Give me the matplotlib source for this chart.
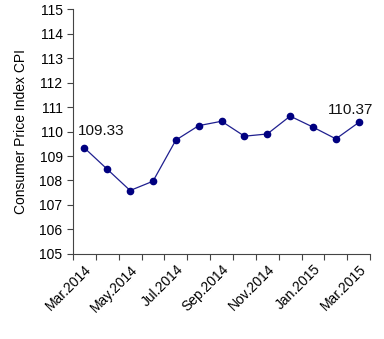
import numpy as np
import matplotlib
matplotlib.use("Agg")
from matplotlib import pyplot as plt

months = ["Mar.2014", "Apr.2014", "May.2014", "Jun.2014", "Jul.2014", "Aug.2014",
          "Sep.2014", "Oct.2014", "Nov.2014", "Dec.2014", "Jan.2015", "Feb.2015", "Mar.2015"]
cpi = [109.33, 108.46, 107.59, 107.97, 109.65, 110.24, 110.42,
       109.81, 109.90, 110.63, 110.18, 109.70, 110.37]

plt.rcParams['font.family'] = ['Liberation Sans', 'DejaVu Sans']

fig = plt.figure(figsize=(3.84, 3.39), dpi=100)
ax = fig.add_axes([0.190, 0.251, 0.774, 0.722])

x = np.arange(len(months))
ax.plot(x, cpi, color='#1f1f8f', linewidth=0.9, marker='o', markersize=4.5,
        markerfacecolor='#000080', markeredgecolor='#000080')

# first and last values written on the chart
ax.annotate(f"{cpi[0]:.2f}", (x[0], cpi[0]), xytext=(-5, 7), textcoords='offset points',
            fontsize=11, color='#111111', ha='left', va='bottom')
ax.annotate(f"{cpi[-1]:.2f}", (x[-1], cpi[-1]), xytext=(-22, 4), textcoords='offset points',
            fontsize=11, color='#111111', ha='left', va='bottom')

ax.set_xlim(-0.5, len(months) - 0.5)
ax.set_ylim(105, 115)
ax.set_yticks(np.arange(105, 116, 1))

# tick marks sit between categories, labels on every other month
ax.set_xticks(np.arange(len(months) + 1) - 0.5)
ax.set_xticklabels([])
ax.set_xticks(x[::2], minor=True)
ax.set_xticklabels(months[::2], minor=True, rotation=45, ha='right', rotation_mode='anchor')
ax.tick_params(axis='x', which='minor', length=0, pad=6, labelsize=10)
ax.tick_params(axis='x', which='major', length=4, color='#444444')
ax.tick_params(axis='y', length=4, color='#444444', labelsize=10)

for s in ['top', 'right']:
    ax.spines[s].set_visible(False)
for s in ['left', 'bottom']:
    ax.spines[s].set_color('#444444')

ax.set_ylabel("Consumer Price Index CPI", fontsize=10, labelpad=8)

fig.savefig("out.png", dpi=100)
